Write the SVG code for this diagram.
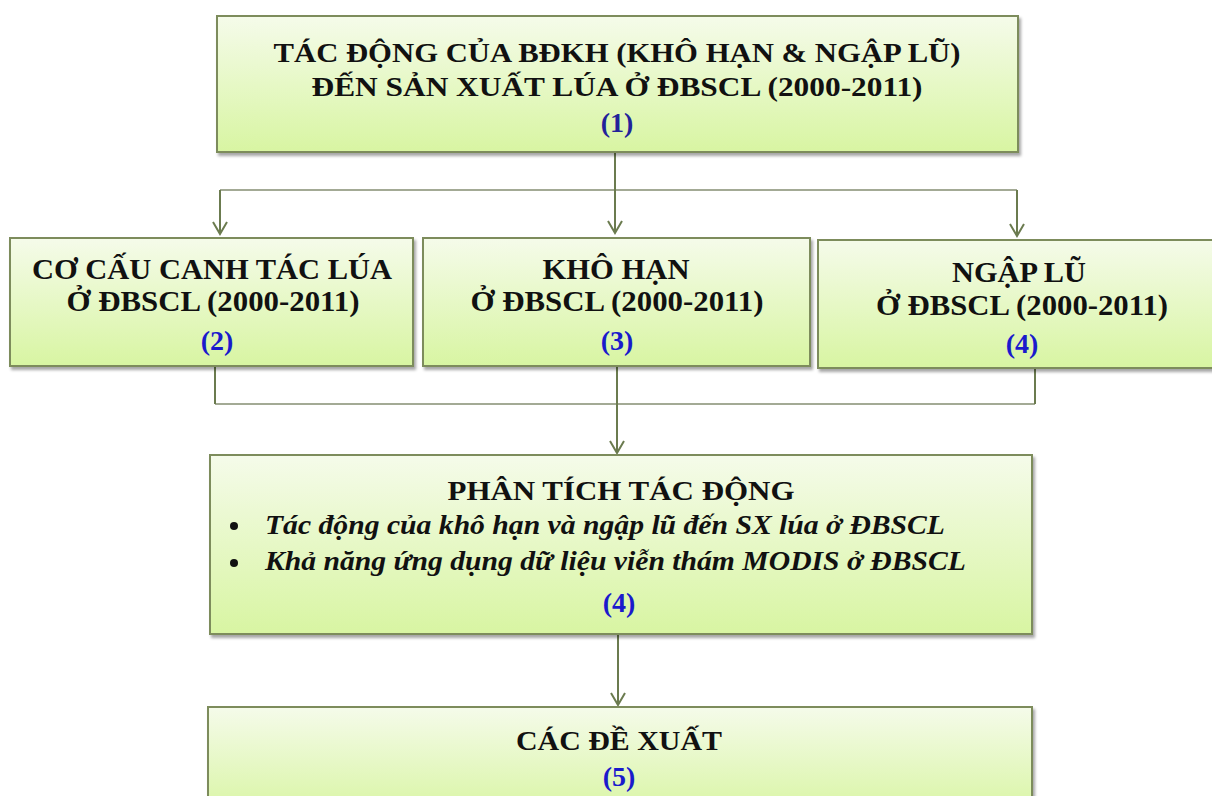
<svg xmlns="http://www.w3.org/2000/svg" width="1212" height="796" viewBox="0 0 1212 796">
<defs>
<linearGradient id="g" x1="0" y1="0" x2="0" y2="1">
<stop offset="0" stop-color="#f5fbea"/>
<stop offset="1" stop-color="#d8f5a2"/>
</linearGradient>
<filter id="sh" x="-5%" y="-5%" width="110%" height="115%">
<feDropShadow dx="2" dy="3" stdDeviation="1.5" flood-color="#000" flood-opacity="0.35"/>
</filter>
<marker id="arr" markerWidth="16" markerHeight="16" refX="14" refY="8" orient="auto" markerUnits="userSpaceOnUse" viewBox="0 0 16 16">
<path d="M2,1 L14,8 L2,15" fill="none" stroke="#6b7b4f" stroke-width="2"/>
</marker>
</defs>
<style>
.box{fill:url(#g);stroke:#7d8c5c;stroke-width:2;filter:url(#sh)}
.t{font-family:"Liberation Serif","Times New Roman",serif;font-weight:bold;fill:#111;text-anchor:middle}
.n{font-family:"Liberation Serif","Times New Roman",serif;font-weight:bold;fill:#1a1acc;text-anchor:middle;font-size:28px}
.i{font-family:"Liberation Serif","Times New Roman",serif;font-weight:bold;font-style:italic;fill:#111;font-size:27px}
.c{fill:none;stroke:#6b7b4f;stroke-width:2}
.h{fill:none;stroke:#a3aa95;stroke-width:2}
</style>
<rect width="1212" height="796" fill="#fff"/>
<g id="connectors">
<path class="h" d="M220,190 H1017"/>
<path class="c" d="M615,152 V233" marker-end="url(#arr)"/>
<path class="c" d="M220,190 V234" marker-end="url(#arr)"/>
<path class="c" d="M1017,190 V236" marker-end="url(#arr)"/>
<path class="h" d="M215,404 H1035"/>
<path class="c" d="M215,366 V404"/>
<path class="c" d="M1035,368 V404"/>
<path class="c" d="M617,366 V453" marker-end="url(#arr)"/>
<path class="c" d="M618,634 V705" marker-end="url(#arr)"/>
</g>
<g id="node1">
<rect class="box" x="217" y="16" width="801" height="136"/>
<text class="t" x="617" y="62" font-size="28" textLength="687" lengthAdjust="spacingAndGlyphs">TÁC ĐỘNG CỦA BĐKH (KHÔ HẠN &amp; NGẬP LŨ)</text>
<text class="t" x="617" y="96" font-size="28" textLength="611" lengthAdjust="spacingAndGlyphs">ĐẾN SẢN XUẤT LÚA Ở ĐBSCL (2000-2011)</text>
<text class="n" x="617" y="132" style="fill:#22229a">(1)</text>
</g>
<g id="node2">
<rect class="box" x="10" y="238" width="403" height="128"/>
<text class="t" x="212" y="279" font-size="29" textLength="360" lengthAdjust="spacingAndGlyphs">CƠ CẤU CANH TÁC LÚA</text>
<text class="t" x="213" y="311" font-size="29" textLength="293" lengthAdjust="spacingAndGlyphs">Ở ĐBSCL (2000-2011)</text>
<text class="n" x="217" y="350">(2)</text>
</g>
<g id="node3">
<rect class="box" x="423" y="238" width="387" height="128"/>
<text class="t" x="616" y="279" font-size="29" textLength="147" lengthAdjust="spacingAndGlyphs">KHÔ HẠN</text>
<text class="t" x="617" y="311" font-size="29" textLength="293" lengthAdjust="spacingAndGlyphs">Ở ĐBSCL (2000-2011)</text>
<text class="n" x="617" y="350">(3)</text>
</g>
<g id="node4">
<rect class="box" x="818" y="240" width="400" height="128"/>
<text class="t" x="1019" y="282" font-size="29" textLength="134" lengthAdjust="spacingAndGlyphs">NGẬP LŨ</text>
<text class="t" x="1022" y="315" font-size="29" textLength="292" lengthAdjust="spacingAndGlyphs">Ở ĐBSCL (2000-2011)</text>
<text class="n" x="1022" y="353">(4)</text>
</g>
<g id="node5">
<rect class="box" x="210" y="455" width="822" height="179"/>
<text class="t" x="621" y="500" font-size="28" textLength="347" lengthAdjust="spacingAndGlyphs">PHÂN TÍCH TÁC ĐỘNG</text>
<circle cx="234" cy="526" r="4" fill="#111"/>
<text class="i" x="265" y="534" textLength="680" lengthAdjust="spacingAndGlyphs">Tác động của khô hạn và ngập lũ đến SX lúa ở ĐBSCL</text>
<circle cx="234" cy="563" r="4" fill="#111"/>
<text class="i" x="265" y="570" textLength="701" lengthAdjust="spacingAndGlyphs">Khả năng ứng dụng dữ liệu viễn thám MODIS ở ĐBSCL</text>
<text class="n" x="619" y="612">(4)</text>
</g>
<g id="node6">
<rect class="box" x="208" y="707" width="824" height="110"/>
<text class="t" x="619" y="750" font-size="28" textLength="206" lengthAdjust="spacingAndGlyphs">CÁC ĐỀ XUẤT</text>
<text class="n" x="619" y="786">(5)</text>
</g>
</svg>
